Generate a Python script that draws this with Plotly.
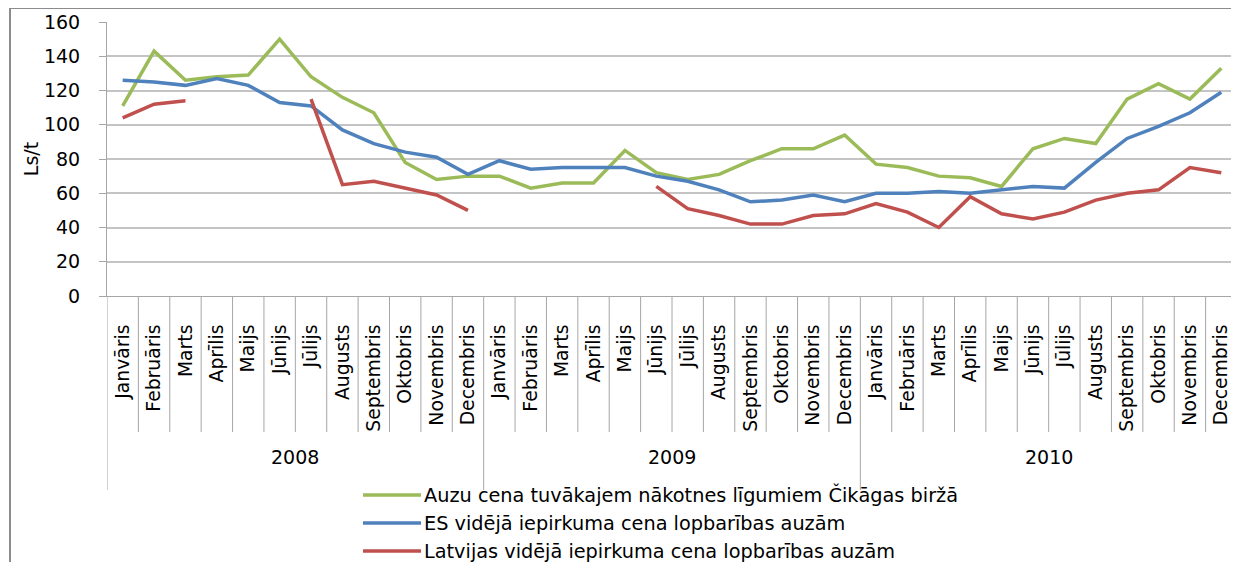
import plotly.graph_objects as go

# --- data (Ls/t), monthly 2008-2010 ---
YEARS = ["2008", "2009", "2010"]
MONTHS = ["Janvāris", "Februāris", "Marts", "Aprīlis", "Maijs", "Jūnijs",
          "Jūlijs", "Augusts", "Septembris", "Oktobris", "Novembris", "Decembris"]

CHICAGO = [111, 143, 126, 128, 129, 150, 128, 116, 107, 78, 68, 70,
           70, 63, 66, 66, 85, 72, 68, 71, 79, 86, 86, 94,
           77, 75, 70, 69, 64, 86, 92, 89, 115, 124, 115, 133]
ES = [126, 125, 123, 127, 123, 113, 111, 97, 89, 84, 81, 71,
      79, 74, 75, 75, 75, 70, 67, 62, 55, 56, 59, 55,
      60, 60, 61, 60, 62, 64, 63, 78, 92, 99, 107, 119]
LV = [104, 112, 114, None, None, None, 115, 65, 67, 63, 59, 50,
      None, None, None, None, None, 64, 51, 47, 42, 42, 47, 48,
      54, 49, 40, 58, 48, 45, 49, 56, 60, 62, 75, 72]

SERIES = [
    ("Auzu cena tuvākajem nākotnes līgumiem Čikāgas biržā", CHICAGO, "#9BBB59"),
    ("ES vidējā iepirkuma cena lopbarības auzām", ES, "#4F81BD"),
    ("Latvijas vidējā iepirkuma cena lopbarības auzām", LV, "#C0504D"),
]

# page body adds an 8px offset, so the figure is 8px smaller each way
OFF = 8
W, H = 1239 - OFF, 562 - OFF
ML, MR, MT = 107 - OFF, 2, 22 - OFF
MB = H - (296 - OFF)
PH = H - MT - MB
PW = W - ML - MR
FONT = "DejaVu Sans"
GRAY = "#a6a6a6"


def py(y):
    # screen row -> paper y
    return (H - MB - (y - OFF)) / PH


def px(x):
    # screen column -> paper x
    return ((x - OFF) - ML) / PW


x = list(range(len(YEARS) * len(MONTHS)))
ticktext = MONTHS * len(YEARS)
n = len(x)

fig = go.Figure()
for name, vals, color in SERIES:
    fig.add_trace(go.Scatter(
        x=x, y=vals, name=name, mode="lines",
        line=dict(color=color, width=3.5),
        connectgaps=False, showlegend=False,
    ))

shapes = []
# month / year dividers under the category axis
for k in range(1, n):
    year_edge = k % len(MONTHS) == 0
    shapes.append(dict(
        type="line", xref="x", yref="paper",
        x0=k - 0.5, x1=k - 0.5, y0=0, y1=py(490 if year_edge else 432),
        line=dict(color=GRAY, width=1),
    ))
for edge in (-0.5, n - 0.5):
    shapes.append(dict(
        type="line", xref="x", yref="paper",
        x0=edge, x1=edge, y0=0, y1=py(490),
        line=dict(color=GRAY, width=1),
    ))
# outer chart frame, cut off like the source
shapes.append(dict(type="line", xref="paper", yref="paper",
                   x0=px(10), x1=px(10), y0=py(8), y1=py(570),
                   line=dict(color="#8c8c8c", width=2)))
shapes.append(dict(type="line", xref="paper", yref="paper",
                   x0=px(10), x1=px(1245), y0=py(8), y1=py(8),
                   line=dict(color="#8c8c8c", width=2)))

annotations = []
for i, yr in enumerate(YEARS):
    annotations.append(dict(
        x=i * len(MONTHS) + (len(MONTHS) - 1) / 2, xref="x",
        y=py(470), yref="paper", text=yr, showarrow=False,
        font=dict(family=FONT, size=19, color="black"),
    ))

# legend drawn by hand so the key lines match the source length
LEG_ROWS = [495, 523, 551]
for (name, _, color), row in zip(SERIES, LEG_ROWS):
    shapes.append(dict(type="line", xref="paper", yref="paper",
                       x0=px(363), x1=px(421), y0=py(row), y1=py(row),
                       line=dict(color=color, width=3.5)))
    annotations.append(dict(
        x=px(422), y=py(row), xref="paper", yref="paper",
        xanchor="left", yanchor="middle", text=name, showarrow=False,
        font=dict(family=FONT, size=19.3, color="black"),
    ))

fig.update_layout(
    width=W, height=H,
    margin=dict(l=ML, r=MR, t=MT, b=MB),
    plot_bgcolor="white", paper_bgcolor="white",
    font=dict(family=FONT, size=19, color="black"),
    shapes=shapes, annotations=annotations,
    showlegend=False,
)
fig.update_xaxes(
    range=[-0.5, n - 0.5], tickvals=x, ticktext=ticktext,
    tickangle=-90, ticks="", ticklabelstandoff=20,
    showgrid=False, zeroline=False,
    showline=True, linecolor=GRAY, linewidth=1,
    tickfont=dict(family=FONT, size=18.8),
)
fig.update_yaxes(
    range=[0, 160], dtick=20, tick0=0,
    ticks="outside", ticklen=7, tickcolor=GRAY, ticklabelstandoff=15,
    showgrid=True, gridcolor="#c4c4c4", gridwidth=2,
    zeroline=False, showline=True, linecolor=GRAY, linewidth=1,
    title=dict(text="Ls/t", standoff=0, font=dict(family=FONT, size=19)),
    tickfont=dict(family=FONT, size=19),
)

fig.write_html("out.html")
